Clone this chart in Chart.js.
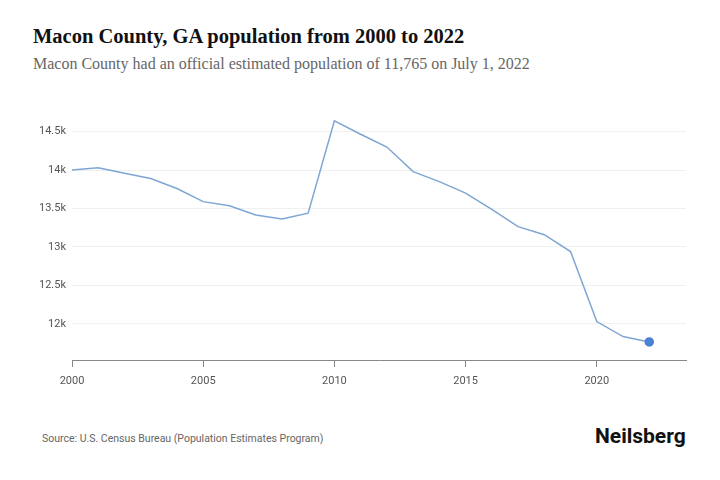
<!DOCTYPE html>
<html>
<head>
<meta charset="utf-8">
<script src="https://cdn.jsdelivr.net/npm/chart.js@4"></script>
<style>
  body { margin: 0; background: #fff; width: 720px; height: 480px; position: relative; overflow: hidden; }
  .title { position: absolute; left: 33px; top: 25px; font-family: "Liberation Serif", serif; font-weight: 700; font-size: 20.5px; color: #111; }
  .subtitle { position: absolute; left: 33px; top: 55px; font-family: "Liberation Serif", serif; font-size: 16px; color: #666; }
  .source { position: absolute; left: 42px; top: 432px; font-family: Roboto, sans-serif; font-size: 10.5px; color: #666; }
  .logo { position: absolute; left: 595px; top: 424px; font-family: Roboto, sans-serif; font-weight: 700; font-size: 21px; color: #111; }
  #wrap { position: absolute; left: 0; top: 96px; width: 720px; height: 304px; }
</style>
</head>
<body>
<div class="title">Macon County, GA population from 2000 to 2022</div>
<div class="subtitle">Macon County had an official estimated population of 11,765 on July 1, 2022</div>
<div id="wrap"><canvas id="lineChart"></canvas></div>
<div class="source">Source: U.S. Census Bureau (Population Estimates Program)</div>
<div class="logo">Neilsberg</div>
<script>
// 年
const years = [2000, 2001, 2002, 2003, 2004, 2005, 2006, 2007, 2008, 2009, 2010,
    2011, 2012, 2013, 2014, 2015, 2016, 2017, 2018, 2019, 2020, 2021, 2022];
// 人口
const population = [14000, 14030, 13960, 13890, 13760, 13590, 13535, 13415, 13365, 13440, 14640,
    14466, 14300, 13980, 13850, 13700, 13490, 13265, 13160, 12940, 12030, 11835, 11765];
// 目盛り
const yTicks = [12000, 12500, 13000, 13500, 14000, 14500];
const xTicks = [2000, 2005, 2010, 2015, 2020];

const points = years.map((y, i) => ({ x: y, y: population[i] }));
const lastIdx = points.length - 1;

/**
 * 折れ線グラフ作成
 */
function createLineChart() {
    const ctx = document.getElementById('lineChart').getContext('2d');
    new Chart(ctx, {
        type: 'line',
        data: {
            datasets: [{
                data: points,
                borderColor: '#7ea6d4',
                borderWidth: 1.5,
                tension: 0,
                pointRadius: ctx => ctx.dataIndex === lastIdx ? 4 : 0,
                pointBackgroundColor: '#4a80d6',
                pointBorderColor: '#4a80d6'
            }]
        },
        options: {
            responsive: true,
            maintainAspectRatio: false,
            animation: false,
            layout: { padding: { top: 5, right: 34, left: 0, bottom: 0 } },
            plugins: { legend: { display: false }, tooltip: { enabled: false } },
            scales: {
                x: {
                    type: 'linear',
                    min: 2000,
                    max: 2023.4,
                    afterFit: s => { s.height = 40; },
                    afterBuildTicks: s => { s.ticks = xTicks.map(v => ({ value: v })); },
                    ticks: {
                        color: '#555',
                        font: { family: 'Roboto', size: 11 },
                        padding: 8,
                        callback: v => String(v),
                        maxRotation: 0
                    },
                    grid: { drawOnChartArea: false, drawTicks: true, tickLength: 7, color: '#888' },
                    border: { color: '#888', width: 1 }
                },
                y: {
                    min: 11530,
                    max: 14800,
                    afterFit: s => { s.width = 72; },
                    afterBuildTicks: s => { s.ticks = yTicks.map(v => ({ value: v })); },
                    ticks: {
                        color: '#555',
                        font: { family: 'Roboto', size: 11 },
                        padding: 6,
                        callback: v => (v / 1000) + 'k'
                    },
                    grid: { color: '#f0f0f0', drawTicks: false },
                    border: { display: false }
                }
            }
        }
    });
}

createLineChart();
</script>
</body>
</html>
